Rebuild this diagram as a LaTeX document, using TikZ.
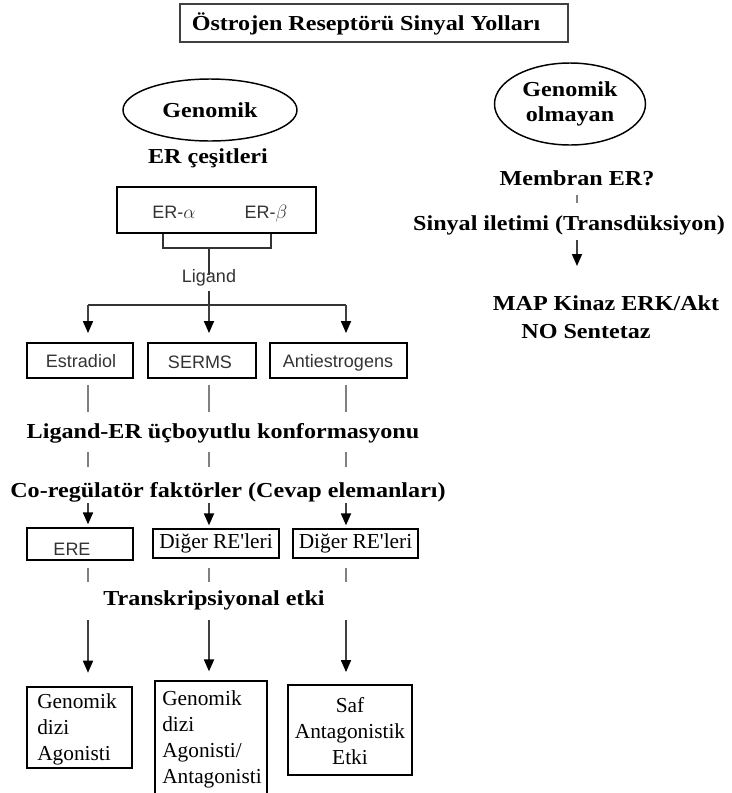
\documentclass[tikz,border=0pt]{standalone}
\usepackage{fontspec}
\setmainfont{Liberation Serif}
\setsansfont{Liberation Sans}
\newfontfamily\labfont{Liberation Serif}[FakeStretch=1.13]
\usetikzlibrary{arrows.meta,shapes.geometric}

\tikzset{
  lbl/.style={font=\labfont\bfseries\fontsize{16}{19}\selectfont, inner sep=0pt, align=center},
  body/.style={font=\fontsize{16}{19.5}\selectfont, inner sep=0pt},
  sanslbl/.style={font=\sffamily\fontsize{13.5}{16}\selectfont, text=black!80, inner sep=0pt, anchor=base},
  rbox/.style={draw, line width=1.4pt, inner sep=0pt, rectangle},
  oval/.style={draw, line width=1.1pt, ellipse, inner sep=0pt},
  gline/.style={draw=black!50, line width=1.5pt},
  tline/.style={draw=black!80, line width=1.3pt},
  arr/.style={draw=black!75, line width=1.3pt, -{Triangle[width=7.5pt,length=9pt,black]}},
}

\begin{document}
\begin{tikzpicture}[x=0.75pt,y=-0.75pt]
\useasboundingbox (0,0) rectangle (732,793);

% title
\node[rbox, draw=black!75, line width=1.6pt, minimum width=291pt, minimum height=28.5pt] (title) at (374,23) {};
\node[lbl, anchor=base] (titletext) at (366,30) {Östrojen Reseptörü Sinyal Yolları};

% ---------------- genomic branch ----------------
\node[oval, minimum width=130.5pt, minimum height=46.5pt, lbl] (gen) at (210,110) {Genomik};
\node[lbl, anchor=base] (ertypes) at (208,163) {ER çeşitleri};

\node[rbox, minimum width=149.25pt, minimum height=34.5pt] (erbox) at (216.5,210) {};
\node[sanslbl] (era) at (174,218) {ER-$\alpha$};
\node[sanslbl] (erb) at (266,218) {ER-$\beta$};

\coordinate (bl) at (163,248);
\coordinate (br) at (271,248);
\coordinate (bm) at (209,248);
\draw[tline] (erbox.south -| bl) -- (bl) -- (br) -- (erbox.south -| br);

\node[sanslbl] (lig) at (209,282) {Ligand};
\draw[tline] (bm) -- ([yshift=-4.5pt]lig.north);

% column guides
\coordinate (c1) at (88,305);
\coordinate (c2) at (209,305);
\coordinate (c3) at (346,305);

\node[rbox, minimum width=79.5pt, minimum height=26.25pt] (est) at (80,360.5) {};
\node[sanslbl] (estt) at (81,367) {Estradiol};
\node[rbox, minimum width=81pt, minimum height=26.25pt] (serms) at (202,360.5) {};
\node[sanslbl] (sermst) at (200,368) {SERMS};
\node[rbox, minimum width=102.75pt, minimum height=26.25pt] (anti) at (338.5,360.5) {};
\node[sanslbl] (antit) at (338,367) {Antiestrogens};

\draw[tline] ([yshift=-4pt]lig.south -| c2) -- (c2);
\draw[tline] (c1) -- (c3);
\draw[arr, shorten >=6.75pt] (c1) -- (c1 |- est.north);
\draw[arr, shorten >=6.75pt] (c2) -- (c2 |- serms.north);
\draw[arr, shorten >=6.75pt] (c3) -- (c3 |- anti.north);

\node[lbl, anchor=base] (conf) at (223,438) {Ligand-ER üçboyutlu konformasyonu};
\draw[gline] ([yshift=-4.5pt]c1 |- est.south) -- (88,412);
\draw[gline] ([yshift=-4.5pt]c2 |- serms.south) -- (209,412);
\draw[gline] ([yshift=-4.5pt]c3 |- anti.south) -- (346,412);

\node[lbl, anchor=base] (coreg) at (228,497) {Co-regülatör faktörler (Cevap elemanları)};
\draw[gline] (88,452) -- (88,467);
\draw[gline] (209,452) -- (209,467);
\draw[gline] (346,452) -- (346,467);

\node[rbox, minimum width=79.5pt, minimum height=24pt] (ere) at (80,544) {};
\node[sanslbl] (eret) at (72,555) {ERE};
\node[rbox, minimum width=94.5pt, minimum height=21.75pt, body] (dig1) at (216,543.5) {Diğer RE\textquotesingle leri};
\node[rbox, minimum width=93.75pt, minimum height=21.75pt, body] (dig2) at (355.5,543.5) {Diğer RE\textquotesingle leri};

\draw[arr, shorten >=2pt] (88,503) -- (c1 |- ere.north);
\draw[arr, shorten >=2pt] (209,503) -- (c2 |- dig1.north);
\draw[arr, shorten >=2pt] (346,503) -- (c3 |- dig2.north);

\draw[gline] (88,568) -- (88,582);
\draw[gline] (209,568) -- (209,582);
\draw[gline] (346,568) -- (346,582);
\node[lbl, anchor=base] (transk) at (214,605) {Transkripsiyonal etki};

% outcome boxes
\node[rbox, minimum width=78.75pt, minimum height=60.75pt] (b1) at (79.5,727.5) {};
\node[body, align=left, anchor=north west] (b1t) at (37,693) {Genomik\\dizi\\Agonisti};

\node[minimum width=84pt, minimum height=84pt, inner sep=0pt] (b2) at (211,737) {};
\draw[line width=1.4pt] (b2.south west) -- (b2.north west) -- (b2.north east) -- (b2.south east);
\node[body, align=left, anchor=north west] (b2t) at (162,690) {Genomik\\dizi\\Agonisti/\\Antagonisti};

\node[rbox, minimum width=93pt, minimum height=67.5pt] (b3) at (350,730) {};
\node[body, align=center, anchor=north] (b3t) at (350,697) {Saf\\Antagonistik\\Etki};

\draw[arr, shorten >=10pt] (88,620) -- (c1 |- b1.north);
\draw[arr, shorten >=7pt] (209,620) -- (c2 |- b2.north);
\draw[arr, shorten >=9pt] (346,620) -- (c3 |- b3.north);

% ---------------- non-genomic branch ----------------
\node[oval, minimum width=113.25pt, minimum height=61.5pt, lbl] (ngen) at (570,104) {Genomik\\olmayan};
\node[lbl, anchor=base] (memb) at (577,185) {Membran ER?};
\node[lbl, anchor=base] (sinyal) at (569,230) {Sinyal iletimi (Transdüksiyon)};
\coordinate (r1) at (577,195);
\coordinate (r2) at (577,203);
\coordinate (r3) at (577,240);
\coordinate (r4) at (577,266);
\draw[gline] (r1) -- (r2);
\draw[arr] (r3) -- (r4);
\node[lbl, anchor=base] (map) at (606,310) {MAP Kinaz ERK/Akt};
\node[lbl, anchor=base] (nos) at (586,338) {NO Sentetaz};
\end{tikzpicture}
\end{document}
